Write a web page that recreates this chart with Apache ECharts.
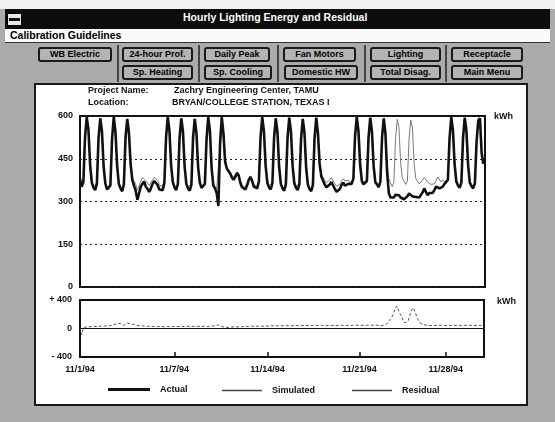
<!DOCTYPE html>
<html>
<head>
<meta charset="utf-8">
<script src="https://cdn.jsdelivr.net/npm/echarts@6/dist/echarts.min.js"></script>
<style>
  html, body { margin: 0; padding: 0; }
  body { width: 555px; height: 422px; position: relative; overflow: hidden; background: #ababab; font-family: "Liberation Sans", Arial, sans-serif; }
  .abs { position: absolute; box-sizing: border-box; }
  #topstrip { left: 0; top: 0; width: 555px; height: 9px; background: #f2f2f2; }
  #titlebar { left: 5px; top: 9px; width: 545px; height: 20px; background: #0d0d0d; }
  #titletext { left: 183px; top: 11px; color: #fff; font-weight: bold; font-size: 10.5px; white-space: nowrap; }
  #sysbox { left: 7px; top: 13px; width: 15px; height: 13px; background: #e8e8e8; border: 1px solid #000; }
  #sysbar { left: 9px; top: 18px; width: 11px; height: 3px; background: #111; }
  #menubar { left: 5px; top: 29px; width: 545px; height: 14px; background: #fafafa; border-bottom: 1px solid #333; }
  #menutext { left: 10px; top: 29px; font-weight: bold; font-size: 10.5px; color: #000; white-space: nowrap; }
  .btn { height: 15px; border: 2px solid #1a1a1a; border-radius: 3px; background: #b4b4b4; font-weight: bold; font-size: 9px; color: #000; text-align: center; line-height: 11px; white-space: nowrap; overflow: hidden; }
  .sep { width: 2px; top: 45px; height: 37px; background: #444; }
  #panel { left: 34px; top: 83px; width: 494px; height: 323px; background: #fff; border: 2px solid #1a1a1a; }
  #chart { left: 0; top: 0; width: 555px; height: 422px; z-index: 2; }
</style>
</head>
<body>
<div class="abs" id="topstrip"></div>
<div class="abs" id="titlebar"></div>
<div class="abs" id="sysbox"></div>
<div class="abs" id="sysbar"></div>
<div class="abs" id="titletext">Hourly Lighting Energy and Residual</div>
<div class="abs" id="menubar"></div>
<div class="abs" id="menutext">Calibration Guidelines</div>

<div class="abs sep" style="left:117px"></div>
<div class="abs sep" style="left:198px"></div>
<div class="abs sep" style="left:277px"></div>
<div class="abs sep" style="left:364px"></div>
<div class="abs sep" style="left:445px"></div>

<div class="abs btn" style="left:38px; top:47px; width:74px;">WB Electric</div>
<div class="abs btn" style="left:122px; top:47px; width:71px;">24-hour Prof.</div>
<div class="abs btn" style="left:204px; top:47px; width:66px;">Daily Peak</div>
<div class="abs btn" style="left:283px; top:47px; width:73px;">Fan Motors</div>
<div class="abs btn" style="left:370px; top:47px; width:71px;">Lighting</div>
<div class="abs btn" style="left:451px; top:47px; width:72px;">Receptacle</div>
<div class="abs btn" style="left:122px; top:65px; width:71px;">Sp. Heating</div>
<div class="abs btn" style="left:204px; top:65px; width:68px;">Sp. Cooling</div>
<div class="abs btn" style="left:284px; top:65px; width:74px;">Domestic HW</div>
<div class="abs btn" style="left:370px; top:65px; width:71px;">Total Disag.</div>
<div class="abs btn" style="left:451px; top:65px; width:72px;">Main Menu</div>

<div class="abs" id="panel"></div>
<div class="abs" id="chart"></div>

<script>
// ---- Data (kWh), 3-hourly samples, Nov 1-30 1994 (8 per day: 0h,3h,...,21h) ----
const sampleStepHours = 3;

const actual = [
  380, 352, 368, 528, 596, 552, 428, 366,   // 11/1
  348, 340, 362, 524, 592, 548, 422, 364,   // 11/2
  342, 336, 356, 520, 596, 546, 426, 362,   // 11/3
  346, 336, 360, 526, 590, 542, 430, 376,   // 11/4
  356, 338, 306, 328, 352, 362, 370, 352,   // 11/5
  344, 334, 346, 362, 372, 376, 358, 342,   // 11/6
  338, 340, 366, 526, 596, 548, 426, 368,   // 11/7
  350, 340, 362, 522, 592, 546, 422, 362,   // 11/8
  346, 338, 358, 524, 590, 540, 420, 366,   // 11/9
  348, 342, 362, 520, 596, 548, 416, 356,   // 11/10
  346, 330, 284, 502, 596, 540, 440, 416,   // 11/11
  412, 398, 384, 376, 386, 400, 392, 366,   // 11/12
  350, 344, 342, 356, 376, 386, 372, 352,   // 11/13
  348, 346, 370, 526, 596, 546, 426, 366,   // 11/14
  350, 342, 364, 522, 592, 544, 422, 362,   // 11/15
  346, 338, 360, 524, 594, 546, 424, 364,   // 11/16
  348, 340, 362, 520, 590, 542, 420, 360,   // 11/17
  344, 336, 358, 522, 594, 540, 432, 388,   // 11/18
  374, 360, 350, 352, 360, 368, 356, 344,   // 11/19
  334, 332, 344, 358, 366, 356, 350, 362,   // 11/20
  366, 362, 380, 530, 596, 548, 430, 372,   // 11/21
  360, 354, 372, 526, 594, 546, 424, 368,   // 11/22
  360, 350, 370, 526, 592, 538, 400, 330,   // 11/23
  314, 308, 314, 324, 330, 322, 314, 310,   // 11/24
  308, 310, 318, 328, 326, 318, 312, 316,   // 11/25
  318, 314, 320, 332, 346, 334, 322, 330,   // 11/26
  326, 330, 340, 352, 358, 346, 342, 352,   // 11/27
  362, 358, 376, 522, 596, 550, 430, 370,   // 11/28
  356, 348, 366, 524, 594, 548, 426, 366,   // 11/29
  354, 346, 364, 510, 584, 592, 470, 432    // 11/30
];

const simulated = [
  372, 356, 372, 526, 590, 548, 430, 370,
  352, 346, 366, 522, 588, 546, 426, 368,
  348, 342, 362, 520, 590, 544, 428, 368,
  352, 344, 366, 524, 588, 540, 432, 384,
  372, 360, 340, 352, 372, 384, 388, 372,
  366, 356, 362, 376, 384, 388, 374, 360,
  352, 348, 368, 522, 590, 546, 428, 370,
  354, 346, 364, 520, 588, 544, 424, 366,
  350, 344, 362, 522, 586, 540, 422, 368,
  352, 346, 364, 518, 590, 546, 420, 362,
  352, 344, 338, 500, 590, 540, 442, 418,
  414, 402, 388, 382, 390, 404, 396, 372,
  358, 350, 350, 362, 380, 390, 378, 360,
  356, 352, 372, 524, 590, 544, 428, 370,
  354, 348, 366, 520, 588, 542, 424, 366,
  352, 344, 362, 522, 590, 544, 426, 368,
  352, 346, 364, 518, 586, 540, 422, 364,
  350, 342, 362, 520, 590, 540, 434, 394,
  386, 374, 366, 368, 376, 384, 372, 362,
  354, 350, 360, 372, 380, 372, 366, 374,
  372, 366, 382, 528, 590, 546, 432, 376,
  366, 360, 376, 524, 590, 544, 426, 372,
  366, 356, 372, 524, 588, 540, 430, 380,
  366, 352, 368, 522, 588, 560, 436, 382,
  372, 360, 372, 520, 586, 558, 432, 380,
  372, 362, 364, 374, 384, 378, 368, 364,
  360, 356, 362, 374, 386, 380, 368, 376,
  372, 364, 378, 520, 590, 548, 432, 374,
  362, 354, 368, 522, 588, 546, 428, 370,
  360, 352, 366, 508, 580, 588, 472, 436
];

const residual = [
  10, -90, 5, 20, 25, 25, 25, 28,
  28, 30, 28, 30, 32, 30, 34, 36,
  36, 38, 40, 44, 50, 62, 72, 76,
  70, 52, 44, 58, 78, 74, 66, 60,
  56, 48, 42, 40, 38, 36, 34, 32,
  30, 30, 32, 30, 28, 30, 28, 26,
  26, 24, 26, 28, 26, 24, 26, 28,
  28, 26, 28, 30, 28, 26, 28, 30,
  30, 28, 30, 32, 30, 28, 30, 32,
  30, 30, 32, 30, 28, 32, 34, 36,
  38, 44, 52, 40, 30, 24, 18, 16,
  14, 16, 20, 24, 26, 24, 22, 24,
  26, 28, 30, 30, 28, 30, 32, 30,
  32, 30, 32, 34, 32, 30, 34, 36,
  34, 36, 38, 36, 34, 36, 38, 40,
  38, 36, 38, 40, 42, 40, 38, 40,
  42, 40, 38, 40, 42, 44, 42, 40,
  40, 42, 44, 42, 40, 42, 44, 46,
  44, 42, 40, 42, 44, 46, 44, 42,
  40, 42, 44, 46, 44, 42, 44, 46,
  44, 42, 44, 46, 48, 46, 44, 46,
  46, 44, 46, 48, 46, 44, 46, 48,
  48, 46, 44, 42, 40, 46, 60, 82,
  120, 150, 196, 262, 316, 292, 212, 176,
  115, 78, 62, 110, 190, 260, 290, 240,
  170, 120, 80, 60, 52, 48, 46, 44,
  42, 44, 46, 44, 42, 44, 46, 44,
  42, 40, 42, 44, 42, 40, 42, 44,
  44, 42, 44, 46, 44, 42, 44, 46,
  44, 42, 44, 46, 44, 42, 44, 46
];

const tickHours = [0, 168, 334, 498, 652];
const tickLabels = ['11/1/94', '11/7/94', '11/14/94', '11/21/94', '11/28/94'];
const topYTicks = [0, 150, 300, 450, 600];
const projectName = 'Zachry Engineering Center, TAMU';
const locationName = 'BRYAN/COLLEGE STATION, TEXAS I';

// ---- Build chart ----
const toPairs = arr => arr.map((v, i) => [i * sampleStepHours, v]);
const FONT = '"Liberation Sans", Arial, sans-serif';
const lbl = { fontFamily: FONT, fontWeight: 'bold', fontSize: 9, color: '#111' };

const chart = echarts.init(document.getElementById('chart'), null, { renderer: 'canvas' });
chart.setOption({
  animation: false,
  backgroundColor: 'transparent',
  grid: [
    { left: 80, top: 116, width: 405, height: 171, show: true, borderColor: '#111', borderWidth: 2, backgroundColor: 'transparent' },
    { left: 80, top: 300, width: 404, height: 57, show: true, borderColor: '#111', borderWidth: 2, backgroundColor: 'transparent' }
  ],
  xAxis: [
    { type: 'value', gridIndex: 0, min: 0, max: 720, axisLine: { show: false, onZero: false }, axisTick: { show: false }, axisLabel: { show: false }, splitLine: { show: false } },
    { type: 'value', gridIndex: 1, min: 0, max: 720, position: 'bottom',
      axisLine: { show: false, onZero: false },
      axisTick: { show: true, inside: true, length: 5, customValues: tickHours, lineStyle: { color: '#111', width: 1.5 } },
      axisLabel: Object.assign({ margin: 8, customValues: tickHours, formatter: v => tickLabels[tickHours.indexOf(v)] || '' }, lbl),
      splitLine: { show: false } }
  ],
  yAxis: [
    { type: 'value', gridIndex: 0, min: 0, max: 600, interval: 150,
      axisLine: { show: false }, axisTick: { show: false },
      axisLabel: Object.assign({ margin: 7, formatter: v => topYTicks.includes(v) ? String(v) : '' }, lbl),
      splitLine: { show: true, lineStyle: { color: '#222', width: 1, type: [2, 3] } } },
    { type: 'value', gridIndex: 1, min: -400, max: 400, interval: 400,
      axisLine: { show: false }, axisTick: { show: false },
      axisLabel: Object.assign({ margin: 8, formatter: v => v > 0 ? '+ ' + v : (v < 0 ? '- ' + Math.abs(v) : '0') }, lbl),
      splitLine: { show: false } }
  ],
  legend: [
    { left: 108, top: 385, itemWidth: 42, itemHeight: 3, padding: 0, data: [{ name: 'Actual', icon: 'rect' }], textStyle: Object.assign({ padding: [0, 0, 0, 5] }, lbl) },
    { left: 222, top: 386, itemWidth: 40, itemHeight: 1.5, padding: 0, itemStyle: { color: '#444' }, data: [{ name: 'Simulated', icon: 'rect' }], textStyle: Object.assign({ padding: [0, 0, 0, 5] }, lbl) },
    { left: 352, top: 386, itemWidth: 40, itemHeight: 1.5, padding: 0, itemStyle: { color: '#444' }, data: [{ name: 'Residual', icon: 'rect' }], textStyle: Object.assign({ padding: [0, 0, 0, 5] }, lbl) }
  ],
  graphic: [
    { type: 'text', left: 88, top: 86, style: { text: 'Project Name:', font: 'bold 9px ' + FONT, fill: '#111' } },
    { type: 'text', left: 174, top: 86, style: { text: projectName, font: 'bold 9px ' + FONT, fill: '#111' } },
    { type: 'text', left: 88, top: 98, style: { text: 'Location:', font: 'bold 9px ' + FONT, fill: '#111' } },
    { type: 'text', left: 172, top: 98, style: { text: locationName, font: 'bold 9px ' + FONT, fill: '#111' } },
    { type: 'text', left: 494, top: 112, style: { text: 'kWh', font: 'bold 9px ' + FONT, fill: '#111' } },
    { type: 'text', left: 497, top: 297, style: { text: 'kWh', font: 'bold 9px ' + FONT, fill: '#111' } }
  ],
  series: [
    { name: 'Simulated', type: 'line', xAxisIndex: 0, yAxisIndex: 0, data: toPairs(simulated),
      showSymbol: false, symbol: 'none', z: 2, lineStyle: { color: '#7a7a7a', width: 1 }, itemStyle: { color: '#555' } },
    { name: 'Actual', type: 'line', xAxisIndex: 0, yAxisIndex: 0, data: toPairs(actual),
      showSymbol: false, symbol: 'none', z: 3, lineStyle: { color: '#111', width: 2.6 }, itemStyle: { color: '#111' } },
    { name: 'Residual', type: 'line', xAxisIndex: 1, yAxisIndex: 1, data: toPairs(residual),
      showSymbol: false, symbol: 'none', z: 3, lineStyle: { color: '#555', width: 1, type: [3, 2] }, itemStyle: { color: '#555' },
      markLine: { silent: true, symbol: 'none', label: { show: false }, lineStyle: { color: '#111', width: 1, type: 'solid' }, data: [{ yAxis: 0 }] } }
  ]
});
</script>
</body>
</html>
